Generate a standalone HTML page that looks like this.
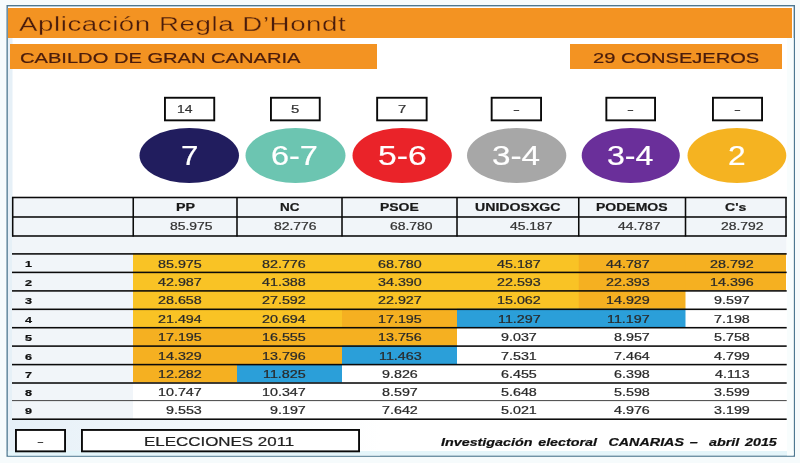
<!DOCTYPE html>
<html lang="es"><head><meta charset="utf-8"><title>Aplicación Regla D’Hondt</title>
<style>
html,body{margin:0;padding:0;background:#f6fbfc}
body{width:800px;height:463px;position:relative;overflow:hidden;background:#f6fbfc;font-family:"Liberation Sans",Arial,sans-serif}
.g{position:absolute;left:0;top:0;display:block}
.t{position:absolute;white-space:pre;transform-origin:0 0;display:block;-webkit-text-stroke:0.22px currentColor}
#w{position:absolute;left:0;top:0;width:800px;height:463px;filter:blur(0.45px)}
</style></head><body><div id="w">
<svg class="g" width="800" height="463" viewBox="0 0 800 463">
<rect x="7.20" y="5.70" width="787.10" height="450.40" fill="#fff" stroke="#4e7890" stroke-width="1.4"/>
<defs><linearGradient id="lg" x1="0" x2="1" y1="0" y2="0"><stop offset="0" stop-color="#e6f0f7"/><stop offset="1" stop-color="#ffffff"/></linearGradient></defs>
<rect x="7.90" y="8.00" width="4.60" height="447.40" fill="#e6f0f7"/>
<rect x="12.00" y="420.00" width="368.00" height="35.40" fill="url(#lg)"/>
<rect x="7.90" y="451.00" width="785.70" height="4.40" fill="#e4f5fa"/>
<rect x="787.00" y="38.00" width="6.60" height="417.40" fill="#f8fdfd"/>
<rect x="8.00" y="8.00" width="784.00" height="30.00" fill="#f39322"/>
<rect x="10.00" y="44.00" width="367.00" height="25.00" fill="#f39322"/>
<rect x="570.00" y="44.00" width="212.00" height="25.00" fill="#f39322"/>
<rect x="164.95" y="97.75" width="49.30" height="22.60" fill="#fff" stroke="#0a0a0a" stroke-width="1.9"/>
<rect x="270.95" y="97.75" width="48.80" height="22.60" fill="#fff" stroke="#0a0a0a" stroke-width="1.9"/>
<rect x="377.15" y="97.75" width="49.50" height="22.60" fill="#fff" stroke="#0a0a0a" stroke-width="1.9"/>
<rect x="491.65" y="97.75" width="49.40" height="22.60" fill="#fff" stroke="#0a0a0a" stroke-width="1.9"/>
<rect x="606.35" y="97.75" width="48.70" height="22.60" fill="#fff" stroke="#0a0a0a" stroke-width="1.9"/>
<rect x="712.95" y="97.75" width="49.10" height="22.60" fill="#fff" stroke="#0a0a0a" stroke-width="1.9"/>
<ellipse cx="189.25" cy="155.50" rx="49.75" ry="27.50" fill="#211d5e"/>
<ellipse cx="295.50" cy="155.50" rx="50.00" ry="27.50" fill="#6cc5b1"/>
<ellipse cx="402.15" cy="155.50" rx="49.65" ry="27.50" fill="#ea2329"/>
<ellipse cx="516.65" cy="155.50" rx="49.65" ry="27.50" fill="#a7a7a7"/>
<ellipse cx="630.75" cy="155.50" rx="49.05" ry="27.50" fill="#6a2f9a"/>
<ellipse cx="736.90" cy="155.50" rx="49.40" ry="27.50" fill="#f5b321"/>
<rect x="12.00" y="197.00" width="774.50" height="57.00" fill="#f1f5f9"/>
<rect x="12.00" y="254.00" width="121.00" height="165.50" fill="#f1f5f9"/>
<rect x="133.00" y="253.40" width="104.70" height="19.20" fill="#f9c325"/>
<rect x="237.00" y="253.40" width="105.70" height="19.20" fill="#f9c325"/>
<rect x="342.00" y="253.40" width="115.70" height="19.20" fill="#f9c325"/>
<rect x="457.00" y="253.40" width="122.45" height="19.20" fill="#f9c325"/>
<rect x="578.75" y="253.40" width="107.45" height="19.20" fill="#f5b021"/>
<rect x="685.50" y="253.40" width="100.50" height="19.20" fill="#f5b021"/>
<rect x="133.00" y="271.90" width="104.70" height="19.20" fill="#f9c325"/>
<rect x="237.00" y="271.90" width="105.70" height="19.20" fill="#f9c325"/>
<rect x="342.00" y="271.90" width="115.70" height="19.20" fill="#f9c325"/>
<rect x="457.00" y="271.90" width="122.45" height="19.20" fill="#f9c325"/>
<rect x="578.75" y="271.90" width="107.45" height="19.20" fill="#f5b021"/>
<rect x="685.50" y="271.90" width="100.50" height="19.20" fill="#f5b021"/>
<rect x="133.00" y="290.40" width="104.70" height="19.10" fill="#f9c325"/>
<rect x="237.00" y="290.40" width="105.70" height="19.10" fill="#f9c325"/>
<rect x="342.00" y="290.40" width="115.70" height="19.10" fill="#f9c325"/>
<rect x="457.00" y="290.40" width="122.45" height="19.10" fill="#f9c325"/>
<rect x="578.75" y="290.40" width="107.45" height="19.10" fill="#f5b021"/>
<rect x="685.50" y="290.40" width="100.50" height="19.10" fill="#fff"/>
<rect x="133.00" y="308.80" width="104.70" height="19.10" fill="#f9c325"/>
<rect x="237.00" y="308.80" width="105.70" height="19.10" fill="#f9c325"/>
<rect x="342.00" y="308.80" width="115.70" height="19.10" fill="#f5b021"/>
<rect x="457.00" y="308.80" width="122.45" height="19.10" fill="#2b9fd9"/>
<rect x="578.75" y="308.80" width="107.45" height="19.10" fill="#2b9fd9"/>
<rect x="685.50" y="308.80" width="100.50" height="19.10" fill="#fff"/>
<rect x="133.00" y="327.20" width="104.70" height="19.10" fill="#f5b021"/>
<rect x="237.00" y="327.20" width="105.70" height="19.10" fill="#f5b021"/>
<rect x="342.00" y="327.20" width="115.70" height="19.10" fill="#f5b021"/>
<rect x="457.00" y="327.20" width="122.45" height="19.10" fill="#fff"/>
<rect x="578.75" y="327.20" width="107.45" height="19.10" fill="#fff"/>
<rect x="685.50" y="327.20" width="100.50" height="19.10" fill="#fff"/>
<rect x="133.00" y="345.60" width="104.70" height="19.20" fill="#f5b021"/>
<rect x="237.00" y="345.60" width="105.70" height="19.20" fill="#f5b021"/>
<rect x="342.00" y="345.60" width="115.70" height="19.20" fill="#2b9fd9"/>
<rect x="457.00" y="345.60" width="122.45" height="19.20" fill="#fff"/>
<rect x="578.75" y="345.60" width="107.45" height="19.20" fill="#fff"/>
<rect x="685.50" y="345.60" width="100.50" height="19.20" fill="#fff"/>
<rect x="133.00" y="364.10" width="104.70" height="19.10" fill="#f5b021"/>
<rect x="237.00" y="364.10" width="105.70" height="19.10" fill="#2b9fd9"/>
<rect x="342.00" y="364.10" width="115.70" height="19.10" fill="#fff"/>
<rect x="457.00" y="364.10" width="122.45" height="19.10" fill="#fff"/>
<rect x="578.75" y="364.10" width="107.45" height="19.10" fill="#fff"/>
<rect x="685.50" y="364.10" width="100.50" height="19.10" fill="#fff"/>
<rect x="133.00" y="382.50" width="104.70" height="18.30" fill="#fff"/>
<rect x="237.00" y="382.50" width="105.70" height="18.30" fill="#fff"/>
<rect x="342.00" y="382.50" width="115.70" height="18.30" fill="#fff"/>
<rect x="457.00" y="382.50" width="122.45" height="18.30" fill="#fff"/>
<rect x="578.75" y="382.50" width="107.45" height="18.30" fill="#fff"/>
<rect x="685.50" y="382.50" width="100.50" height="18.30" fill="#fff"/>
<rect x="133.00" y="400.10" width="104.70" height="19.30" fill="#fff"/>
<rect x="237.00" y="400.10" width="105.70" height="19.30" fill="#fff"/>
<rect x="342.00" y="400.10" width="115.70" height="19.30" fill="#fff"/>
<rect x="457.00" y="400.10" width="122.45" height="19.30" fill="#fff"/>
<rect x="578.75" y="400.10" width="107.45" height="19.30" fill="#fff"/>
<rect x="685.50" y="400.10" width="100.50" height="19.30" fill="#fff"/>
<rect x="12.00" y="196.72" width="774.70" height="1.55" fill="#0a0a0a"/>
<rect x="12.00" y="216.22" width="774.70" height="1.55" fill="#0a0a0a"/>
<rect x="12.00" y="235.22" width="774.70" height="1.55" fill="#0a0a0a"/>
<rect x="11.92" y="197.00" width="1.55" height="39.50" fill="#0a0a0a"/>
<rect x="132.47" y="197.00" width="1.55" height="39.50" fill="#0a0a0a"/>
<rect x="236.22" y="197.00" width="1.55" height="39.50" fill="#0a0a0a"/>
<rect x="341.23" y="197.00" width="1.55" height="39.50" fill="#0a0a0a"/>
<rect x="456.23" y="197.00" width="1.55" height="39.50" fill="#0a0a0a"/>
<rect x="577.98" y="197.00" width="1.55" height="39.50" fill="#0a0a0a"/>
<rect x="684.73" y="197.00" width="1.55" height="39.50" fill="#0a0a0a"/>
<rect x="785.23" y="197.00" width="1.55" height="39.50" fill="#0a0a0a"/>
<rect x="12.00" y="253.12" width="774.70" height="1.55" fill="#0a0a0a"/>
<rect x="12.00" y="271.62" width="774.70" height="1.55" fill="#0a0a0a"/>
<rect x="12.00" y="290.12" width="774.70" height="1.55" fill="#0a0a0a"/>
<rect x="12.00" y="308.53" width="774.70" height="1.55" fill="#0a0a0a"/>
<rect x="12.00" y="326.93" width="774.70" height="1.55" fill="#0a0a0a"/>
<rect x="12.00" y="345.33" width="774.70" height="1.55" fill="#0a0a0a"/>
<rect x="12.00" y="363.83" width="774.70" height="1.55" fill="#0a0a0a"/>
<rect x="12.00" y="382.23" width="774.70" height="1.55" fill="#0a0a0a"/>
<rect x="12.00" y="400.10" width="774.70" height="1.00" fill="#444"/>
<rect x="12.00" y="418.43" width="774.70" height="1.55" fill="#0a0a0a"/>
<rect x="15.95" y="429.95" width="49.10" height="21.40" fill="#fff" stroke="#0a0a0a" stroke-width="1.9"/>
<rect x="81.95" y="429.95" width="277.10" height="21.40" fill="#fff" stroke="#0a0a0a" stroke-width="1.9"/>
</svg>
<span class="t" style="left:19.30px;top:13.57px;font-size:20px;line-height:20px;transform:scaleX(1.3844);color:#4a1c0c;letter-spacing:0.02em;-webkit-text-stroke:0.3px #f39322;">Aplicación Regla D’Hondt</span>
<span class="t" style="left:19.50px;top:49.80px;font-size:15px;line-height:15px;transform:scaleX(1.3407);color:#4a1c0c;">CABILDO DE GRAN CANARIA</span>
<span class="t" style="left:592.50px;top:49.80px;font-size:15px;line-height:15px;transform:scaleX(1.3386);color:#4a1c0c;">29 CONSEJEROS</span>
<span class="t" style="left:177.00px;top:103.87px;font-size:11.5px;line-height:11.5px;transform:scaleX(1.2115);color:#333;">14</span>
<span class="t" style="left:291.20px;top:103.87px;font-size:11.5px;line-height:11.5px;transform:scaleX(1.3000);color:#333;">5</span>
<span class="t" style="left:397.75px;top:103.87px;font-size:11.5px;line-height:11.5px;transform:scaleX(1.3000);color:#333;">7</span>
<span class="t" style="left:512.91px;top:103.87px;font-size:11.5px;line-height:11.5px;transform:scaleX(1.8000);color:#333;">-</span>
<span class="t" style="left:627.26px;top:103.87px;font-size:11.5px;line-height:11.5px;transform:scaleX(1.8000);color:#333;">-</span>
<span class="t" style="left:734.06px;top:103.87px;font-size:11.5px;line-height:11.5px;transform:scaleX(1.8000);color:#333;">-</span>
<span class="t" style="left:180.95px;top:143.24px;font-size:27px;line-height:27px;transform:scaleX(1.1578);color:#fff;">7</span>
<span class="t" style="left:270.95px;top:143.24px;font-size:27px;line-height:27px;transform:scaleX(1.2008);color:#fff;">6-7</span>
<span class="t" style="left:377.95px;top:143.24px;font-size:27px;line-height:27px;transform:scaleX(1.2457);color:#fff;">5-6</span>
<span class="t" style="left:492.20px;top:143.24px;font-size:27px;line-height:27px;transform:scaleX(1.2329);color:#fff;">3-4</span>
<span class="t" style="left:607.20px;top:143.24px;font-size:27px;line-height:27px;transform:scaleX(1.1880);color:#fff;">3-4</span>
<span class="t" style="left:728.45px;top:143.24px;font-size:27px;line-height:27px;transform:scaleX(1.1745);color:#fff;">2</span>
<span class="t" style="left:175.50px;top:202.09px;font-size:11px;line-height:11px;transform:scaleX(1.2938);color:#1a1a1a;font-weight:bold;">PP</span>
<span class="t" style="left:279.50px;top:202.09px;font-size:11px;line-height:11px;transform:scaleX(1.2268);color:#1a1a1a;font-weight:bold;">NC</span>
<span class="t" style="left:380.00px;top:202.09px;font-size:11px;line-height:11px;transform:scaleX(1.2672);color:#1a1a1a;font-weight:bold;">PSOE</span>
<span class="t" style="left:475.00px;top:202.09px;font-size:11px;line-height:11px;transform:scaleX(1.2832);color:#1a1a1a;font-weight:bold;">UNIDOSXGC</span>
<span class="t" style="left:595.50px;top:202.09px;font-size:11px;line-height:11px;transform:scaleX(1.2714);color:#1a1a1a;font-weight:bold;">PODEMOS</span>
<span class="t" style="left:725.00px;top:202.09px;font-size:11px;line-height:11px;transform:scaleX(1.2751);color:#1a1a1a;font-weight:bold;">C's</span>
<span class="t" style="left:169.50px;top:221.11px;font-size:10.5px;line-height:10.5px;transform:scaleX(1.3238);color:#333;">85.975</span>
<span class="t" style="left:273.50px;top:221.11px;font-size:10.5px;line-height:10.5px;transform:scaleX(1.3238);color:#333;">82.776</span>
<span class="t" style="left:390.00px;top:221.11px;font-size:10.5px;line-height:10.5px;transform:scaleX(1.3238);color:#333;">68.780</span>
<span class="t" style="left:509.50px;top:221.11px;font-size:10.5px;line-height:10.5px;transform:scaleX(1.3238);color:#333;">45.187</span>
<span class="t" style="left:618.00px;top:221.11px;font-size:10.5px;line-height:10.5px;transform:scaleX(1.3238);color:#333;">44.787</span>
<span class="t" style="left:720.50px;top:221.11px;font-size:10.5px;line-height:10.5px;transform:scaleX(1.3238);color:#333;">28.792</span>
<span class="t" style="left:157.75px;top:258.61px;font-size:10.5px;line-height:10.5px;transform:scaleX(1.3628);color:#2a2a2a;">85.975</span>
<span class="t" style="left:261.75px;top:258.61px;font-size:10.5px;line-height:10.5px;transform:scaleX(1.3628);color:#2a2a2a;">82.776</span>
<span class="t" style="left:378.00px;top:258.61px;font-size:10.5px;line-height:10.5px;transform:scaleX(1.3628);color:#2a2a2a;">68.780</span>
<span class="t" style="left:497.00px;top:258.61px;font-size:10.5px;line-height:10.5px;transform:scaleX(1.3628);color:#2a2a2a;">45.187</span>
<span class="t" style="left:606.25px;top:258.61px;font-size:10.5px;line-height:10.5px;transform:scaleX(1.3628);color:#2a2a2a;">44.787</span>
<span class="t" style="left:710.00px;top:258.61px;font-size:10.5px;line-height:10.5px;transform:scaleX(1.3628);color:#2a2a2a;">28.792</span>
<span class="t" style="left:25.05px;top:260.48px;font-size:9px;line-height:9px;transform:scaleX(1.4000);color:#111;font-weight:bold;">1</span>
<span class="t" style="left:157.75px;top:277.04px;font-size:10.5px;line-height:10.5px;transform:scaleX(1.3628);color:#2a2a2a;">42.987</span>
<span class="t" style="left:261.75px;top:277.04px;font-size:10.5px;line-height:10.5px;transform:scaleX(1.3628);color:#2a2a2a;">41.388</span>
<span class="t" style="left:378.00px;top:277.04px;font-size:10.5px;line-height:10.5px;transform:scaleX(1.3628);color:#2a2a2a;">34.390</span>
<span class="t" style="left:497.00px;top:277.04px;font-size:10.5px;line-height:10.5px;transform:scaleX(1.3628);color:#2a2a2a;">22.593</span>
<span class="t" style="left:606.25px;top:277.04px;font-size:10.5px;line-height:10.5px;transform:scaleX(1.3628);color:#2a2a2a;">22.393</span>
<span class="t" style="left:710.00px;top:277.04px;font-size:10.5px;line-height:10.5px;transform:scaleX(1.3628);color:#2a2a2a;">14.396</span>
<span class="t" style="left:25.05px;top:278.91px;font-size:9px;line-height:9px;transform:scaleX(1.4000);color:#111;font-weight:bold;">2</span>
<span class="t" style="left:157.75px;top:295.47px;font-size:10.5px;line-height:10.5px;transform:scaleX(1.3628);color:#2a2a2a;">28.658</span>
<span class="t" style="left:261.75px;top:295.47px;font-size:10.5px;line-height:10.5px;transform:scaleX(1.3628);color:#2a2a2a;">27.592</span>
<span class="t" style="left:378.00px;top:295.47px;font-size:10.5px;line-height:10.5px;transform:scaleX(1.3628);color:#2a2a2a;">22.927</span>
<span class="t" style="left:497.00px;top:295.47px;font-size:10.5px;line-height:10.5px;transform:scaleX(1.3628);color:#2a2a2a;">15.062</span>
<span class="t" style="left:606.25px;top:295.47px;font-size:10.5px;line-height:10.5px;transform:scaleX(1.3628);color:#2a2a2a;">14.929</span>
<span class="t" style="left:713.97px;top:295.47px;font-size:10.5px;line-height:10.5px;transform:scaleX(1.3628);color:#2a2a2a;">9.597</span>
<span class="t" style="left:25.05px;top:297.34px;font-size:9px;line-height:9px;transform:scaleX(1.4000);color:#111;font-weight:bold;">3</span>
<span class="t" style="left:157.75px;top:313.90px;font-size:10.5px;line-height:10.5px;transform:scaleX(1.3628);color:#2a2a2a;">21.494</span>
<span class="t" style="left:261.75px;top:313.90px;font-size:10.5px;line-height:10.5px;transform:scaleX(1.3628);color:#2a2a2a;">20.694</span>
<span class="t" style="left:378.00px;top:313.90px;font-size:10.5px;line-height:10.5px;transform:scaleX(1.3628);color:#2a2a2a;">17.195</span>
<span class="t" style="left:497.52px;top:313.90px;font-size:10.5px;line-height:10.5px;transform:scaleX(1.3628);color:#2a2a2a;">11.297</span>
<span class="t" style="left:607.29px;top:313.90px;font-size:10.5px;line-height:10.5px;transform:scaleX(1.3628);color:#2a2a2a;">11.197</span>
<span class="t" style="left:713.97px;top:313.90px;font-size:10.5px;line-height:10.5px;transform:scaleX(1.3628);color:#2a2a2a;">7.198</span>
<span class="t" style="left:25.05px;top:315.77px;font-size:9px;line-height:9px;transform:scaleX(1.4000);color:#111;font-weight:bold;">4</span>
<span class="t" style="left:157.75px;top:332.33px;font-size:10.5px;line-height:10.5px;transform:scaleX(1.3628);color:#2a2a2a;">17.195</span>
<span class="t" style="left:261.75px;top:332.33px;font-size:10.5px;line-height:10.5px;transform:scaleX(1.3628);color:#2a2a2a;">16.555</span>
<span class="t" style="left:378.00px;top:332.33px;font-size:10.5px;line-height:10.5px;transform:scaleX(1.3628);color:#2a2a2a;">13.756</span>
<span class="t" style="left:500.97px;top:332.33px;font-size:10.5px;line-height:10.5px;transform:scaleX(1.3628);color:#2a2a2a;">9.037</span>
<span class="t" style="left:614.19px;top:332.33px;font-size:10.5px;line-height:10.5px;transform:scaleX(1.3628);color:#2a2a2a;">8.957</span>
<span class="t" style="left:713.97px;top:332.33px;font-size:10.5px;line-height:10.5px;transform:scaleX(1.3628);color:#2a2a2a;">5.758</span>
<span class="t" style="left:25.05px;top:334.20px;font-size:9px;line-height:9px;transform:scaleX(1.4000);color:#111;font-weight:bold;">5</span>
<span class="t" style="left:157.75px;top:350.76px;font-size:10.5px;line-height:10.5px;transform:scaleX(1.3628);color:#2a2a2a;">14.329</span>
<span class="t" style="left:261.75px;top:350.76px;font-size:10.5px;line-height:10.5px;transform:scaleX(1.3628);color:#2a2a2a;">13.796</span>
<span class="t" style="left:378.52px;top:350.76px;font-size:10.5px;line-height:10.5px;transform:scaleX(1.3628);color:#2a2a2a;">11.463</span>
<span class="t" style="left:500.97px;top:350.76px;font-size:10.5px;line-height:10.5px;transform:scaleX(1.3628);color:#2a2a2a;">7.531</span>
<span class="t" style="left:614.19px;top:350.76px;font-size:10.5px;line-height:10.5px;transform:scaleX(1.3628);color:#2a2a2a;">7.464</span>
<span class="t" style="left:713.97px;top:350.76px;font-size:10.5px;line-height:10.5px;transform:scaleX(1.3628);color:#2a2a2a;">4.799</span>
<span class="t" style="left:25.05px;top:352.63px;font-size:9px;line-height:9px;transform:scaleX(1.4000);color:#111;font-weight:bold;">6</span>
<span class="t" style="left:157.75px;top:369.19px;font-size:10.5px;line-height:10.5px;transform:scaleX(1.3628);color:#2a2a2a;">12.282</span>
<span class="t" style="left:262.79px;top:369.19px;font-size:10.5px;line-height:10.5px;transform:scaleX(1.3628);color:#2a2a2a;">11.825</span>
<span class="t" style="left:381.97px;top:369.19px;font-size:10.5px;line-height:10.5px;transform:scaleX(1.3628);color:#2a2a2a;">9.826</span>
<span class="t" style="left:500.97px;top:369.19px;font-size:10.5px;line-height:10.5px;transform:scaleX(1.3628);color:#2a2a2a;">6.455</span>
<span class="t" style="left:614.19px;top:369.19px;font-size:10.5px;line-height:10.5px;transform:scaleX(1.3628);color:#2a2a2a;">6.398</span>
<span class="t" style="left:714.51px;top:369.19px;font-size:10.5px;line-height:10.5px;transform:scaleX(1.3628);color:#2a2a2a;">4.113</span>
<span class="t" style="left:25.05px;top:371.06px;font-size:9px;line-height:9px;transform:scaleX(1.4000);color:#111;font-weight:bold;">7</span>
<span class="t" style="left:157.75px;top:387.02px;font-size:10.5px;line-height:10.5px;transform:scaleX(1.3628);color:#2a2a2a;">10.747</span>
<span class="t" style="left:261.75px;top:387.02px;font-size:10.5px;line-height:10.5px;transform:scaleX(1.3628);color:#2a2a2a;">10.347</span>
<span class="t" style="left:381.97px;top:387.02px;font-size:10.5px;line-height:10.5px;transform:scaleX(1.3628);color:#2a2a2a;">8.597</span>
<span class="t" style="left:500.97px;top:387.02px;font-size:10.5px;line-height:10.5px;transform:scaleX(1.3628);color:#2a2a2a;">5.648</span>
<span class="t" style="left:614.19px;top:387.02px;font-size:10.5px;line-height:10.5px;transform:scaleX(1.3628);color:#2a2a2a;">5.598</span>
<span class="t" style="left:713.97px;top:387.02px;font-size:10.5px;line-height:10.5px;transform:scaleX(1.3628);color:#2a2a2a;">3.599</span>
<span class="t" style="left:25.05px;top:388.89px;font-size:9px;line-height:9px;transform:scaleX(1.4000);color:#111;font-weight:bold;">8</span>
<span class="t" style="left:165.69px;top:405.45px;font-size:10.5px;line-height:10.5px;transform:scaleX(1.3628);color:#2a2a2a;">9.553</span>
<span class="t" style="left:269.69px;top:405.45px;font-size:10.5px;line-height:10.5px;transform:scaleX(1.3628);color:#2a2a2a;">9.197</span>
<span class="t" style="left:381.97px;top:405.45px;font-size:10.5px;line-height:10.5px;transform:scaleX(1.3628);color:#2a2a2a;">7.642</span>
<span class="t" style="left:500.97px;top:405.45px;font-size:10.5px;line-height:10.5px;transform:scaleX(1.3628);color:#2a2a2a;">5.021</span>
<span class="t" style="left:614.19px;top:405.45px;font-size:10.5px;line-height:10.5px;transform:scaleX(1.3628);color:#2a2a2a;">4.976</span>
<span class="t" style="left:713.97px;top:405.45px;font-size:10.5px;line-height:10.5px;transform:scaleX(1.3628);color:#2a2a2a;">3.199</span>
<span class="t" style="left:25.05px;top:407.32px;font-size:9px;line-height:9px;transform:scaleX(1.4000);color:#111;font-weight:bold;">9</span>
<span class="t" style="left:37.06px;top:436.27px;font-size:11.5px;line-height:11.5px;transform:scaleX(1.8000);color:#333;">-</span>
<span class="t" style="left:144.25px;top:435.25px;font-size:13px;line-height:13px;transform:scaleX(1.3023);color:#222;">ELECCIONES 2011</span>
<span class="t" style="left:440.50px;top:435.58px;font-size:11.6px;line-height:11.6px;transform:scaleX(1.2347);color:#111;font-weight:bold;font-style:italic;word-spacing:0.12em;">Investigación electoral &nbsp;CANARIAS – &nbsp;abril 2015</span>
</div></body></html>
